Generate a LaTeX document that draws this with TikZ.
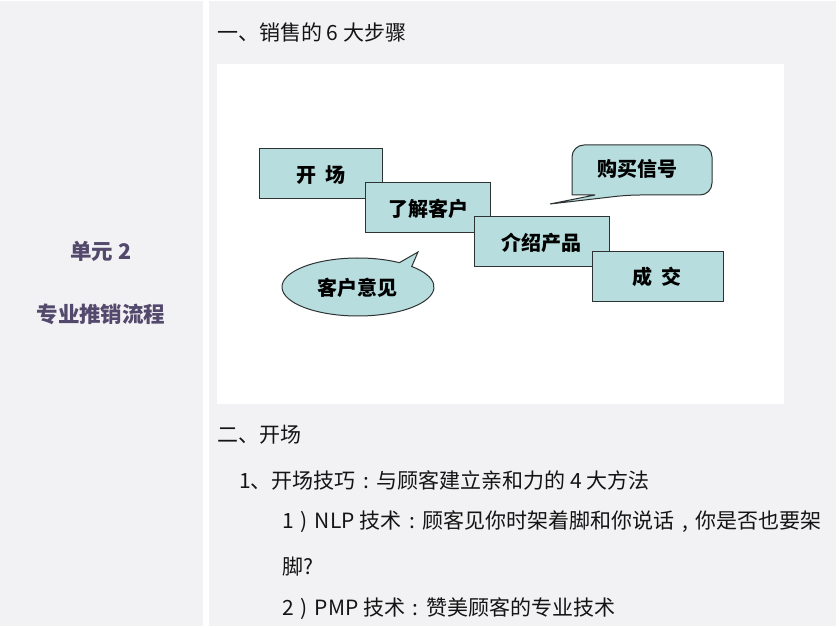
\documentclass[tikz,border=0pt]{standalone}
\usepackage{fontspec}
\setmainfont{Noto Sans CJK SC}
\usetikzlibrary{calc}
\definecolor{pagegray}{RGB}{242,241,243}
\definecolor{boxfill}{RGB}{183,221,222}
\definecolor{boxline}{RGB}{45,50,50}
\definecolor{sidetext}{RGB}{82,73,108}
\definecolor{bodytext}{RGB}{20,20,20}
\newcommand{\cpunct}[1]{\makebox[1em][c]{#1}}
\tikzset{
  stepbox/.style={draw=boxline, line width=1pt, fill=boxfill},
  callout/.style={draw=boxline, line width=1pt, fill=boxfill},
  boxtext/.style={font=\fontsize{20}{24}\selectfont\bfseries, text=black, inner sep=0pt},
  bodyline/.style={anchor=west, font=\fontsize{21}{25}\selectfont, text=bodytext, inner sep=0pt},
  sideline/.style={font=\fontsize{21.5}{25}\selectfont\bfseries, text=sidetext, inner sep=0pt},
}
\begin{document}
\begin{tikzpicture}[x=1pt, y=-1pt]
\useasboundingbox (0,0) rectangle (839,628);
\fill[white] (0,0) rectangle (839,628);
% columns
\fill[pagegray] (0,1) rectangle (203,626);
\fill[pagegray] (209,1) rectangle (836,626);
% white diagram panel
\fill[white] (217,64) rectangle (784,404);

% left column text
\node[sideline] (unit) at (101,251) {单元 2};
\node[sideline] (unittitle) at (101,314) {专业推销流程};

% headings and body
\node[bodyline] (h1) at (217,33) {一、销售的 6 大步骤};
\node[bodyline] (h2) at (217,435) {二、开场};
\node[bodyline] (l1) at (239,480) {1、开场技巧\cpunct{:}与顾客建立亲和力的 4 大方法};
\node[bodyline] (l2) at (282,522) {1\cpunct{)}NLP 技术\cpunct{:}顾客见你时架着脚和你说话\cpunct{,}你是否也要架};
\node[bodyline] (l3) at (282,567) {脚?};
\node[bodyline] (l4) at (282,609) {2\cpunct{)}PMP 技术\cpunct{:}赞美顾客的专业技术};

% callout: 购买信号
\draw[callout] (640,145) [rounded corners=12pt] -- (712,145) -- (712,195) -- (628,195)
  [sharp corners] -- (550,204) -- (595,195) -- (572,195)
  [rounded corners=12pt] -- (572,145) -- cycle;
\node[boxtext] (buy) at (637,169) {购买信号};

% callout: 客户意见
\draw[callout] (358,287) ++(-57:76 and 29)
  arc[start angle=-57, end angle=-405, x radius=76, y radius=29]
  -- (418,252) -- cycle;
\node[boxtext] (obj) at (357,288) {客户意见};

% step boxes (later ones on top)
\draw[stepbox] (259,149) rectangle (382,199);
\node[boxtext] (s1) at (321,175) {开\hspace{0.45em}场};
\draw[stepbox] (365,183) rectangle (490,233);
\node[boxtext] (s2) at (428,209) {了解客户};
\draw[stepbox] (474,217) rectangle (609,267);
\node[boxtext] (s3) at (541,243) {介绍产品};
\draw[stepbox] (592,252) rectangle (723,302);
\node[boxtext] (s4) at (657,277) {成\hspace{0.45em}交};
\end{tikzpicture}
\end{document}
